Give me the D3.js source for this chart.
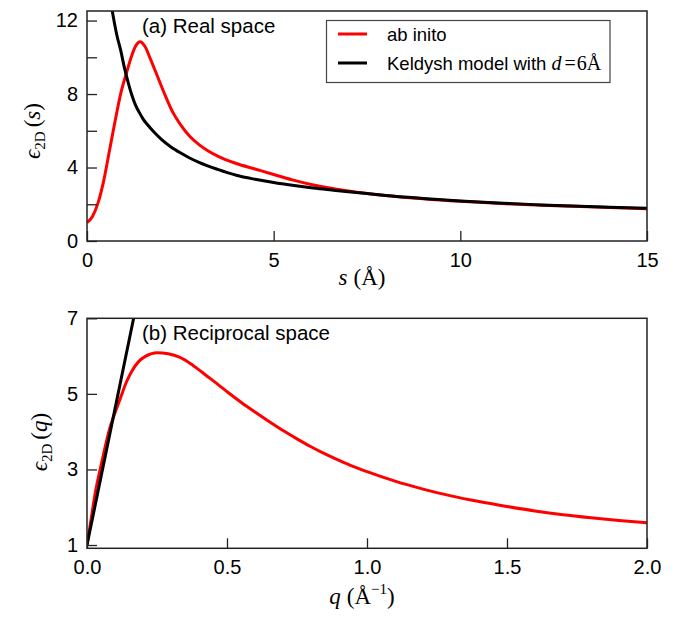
<!DOCTYPE html>
<meta charset="utf-8">
<style>
body { margin: 0; background: #fff; }
text { font-family: "Liberation Sans", Arial, sans-serif; fill: #000; }
.math { font-family: "Liberation Serif", "DejaVu Serif", serif; }
.frame { fill: none; stroke: #222; stroke-width: 1.5px; }
.tick line { stroke: #222; stroke-width: 1.3px; }
</style>
<svg width="681" height="620"></svg>
<script src="https://d3js.org/d3.v7.min.js"></script>
<script>

// panel (a): real space, s in Angstrom
var sAbInitio = [0, 0.15, 0.3, 0.45, 0.6, 0.75, 0.9, 1.05, 1.2, 1.3, 1.42, 1.55, 1.7, 1.9, 2.1, 2.3, 2.5, 2.75, 3.0, 3.5, 4.0, 4.5, 5.0, 5.5, 6.0, 6.5, 7.0, 7.5, 8.0, 9.0, 10, 11, 12, 13, 14, 15];
var epsSAbInitio = [1.0, 1.35, 2.1, 3.3, 4.9, 6.5, 8.0, 9.1, 10.1, 10.6, 10.85, 10.6, 9.9, 8.9, 7.9, 7.0, 6.35, 5.7, 5.25, 4.62, 4.22, 3.92, 3.62, 3.33, 3.08, 2.88, 2.72, 2.59, 2.48, 2.3, 2.16, 2.05, 1.96, 1.89, 1.82, 1.76];

var sKeldysh = [0.67, 0.75, 0.8, 0.9, 1.0, 1.1, 1.2, 1.3, 1.4, 1.5, 1.6, 1.8, 2.0, 2.25, 2.5, 2.75, 3.0, 3.5, 4.0, 4.5, 5.0, 5.5, 6.0, 6.5, 7.0, 7.5, 8.0, 9.0, 10, 11, 12, 13, 14, 15];
var epsSKeldysh = [12.6, 11.7, 11.2, 10.4, 9.45, 8.65, 7.95, 7.4, 7.0, 6.65, 6.38, 5.92, 5.52, 5.12, 4.8, 4.52, 4.28, 3.9, 3.58, 3.36, 3.18, 3.03, 2.9, 2.79, 2.68, 2.58, 2.48, 2.32, 2.18, 2.07, 1.98, 1.9, 1.84, 1.78];

// panel (b): reciprocal space, q in 1/Angstrom
var qAbInitio = [0, 0.015, 0.03, 0.05, 0.065, 0.08, 0.1, 0.12, 0.14, 0.16, 0.185, 0.21, 0.25, 0.29, 0.33, 0.37, 0.41, 0.45, 0.5, 0.55, 0.6, 0.65, 0.7, 0.75, 0.8, 0.85, 0.9, 0.95, 1.0, 1.1, 1.2, 1.3, 1.4, 1.5, 1.6, 1.7, 1.8, 1.9, 2.0];
var epsQAbInitio = [1.0, 1.7, 2.4, 3.1, 3.6, 4.05, 4.5, 4.9, 5.3, 5.6, 5.86, 6.0, 6.09, 6.06, 5.97, 5.8, 5.58, 5.35, 5.06, 4.78, 4.52, 4.27, 4.03, 3.81, 3.6, 3.41, 3.24, 3.08, 2.94, 2.69, 2.48, 2.3, 2.15, 2.02, 1.9, 1.8, 1.72, 1.65, 1.59];

var qKeldysh = [0, 0.172];
var epsQKeldysh = [1.0, 7.2];

var sTicks = [0, 5, 10, 15];
var epsSTicks = [0, 4, 8, 12];
var epsSMinor = [2, 6, 10];
var qTicks = [0, 0.5, 1.0, 1.5, 2.0];
var epsQTicks = [1, 3, 5, 7];

var svg = d3.select("svg");

function zip(xs, ys) { return xs.map(function(x, i) { return [x, ys[i]]; }); }

function panel(cfg) {
  var x = d3.scaleLinear().domain(cfg.xDomain).range([87, 647]);
  var y = d3.scaleLinear().domain(cfg.yDomain).range([cfg.bottom, cfg.top]);
  var g = svg.append("g");

  g.append("clipPath").attr("id", cfg.id)
    .append("rect").attr("x", 87).attr("y", cfg.top).attr("width", 560).attr("height", cfg.bottom - cfg.top);

  var line = d3.line()
      .x(function(d) { return x(d[0]); })
      .y(function(d) { return y(d[1]); })
      .curve(d3.curveMonotoneX);

  var plot = g.append("g").attr("clip-path", "url(#" + cfg.id + ")");
  plot.append("path").datum(cfg.red)
      .attr("fill", "none").attr("stroke", "#ff0000").attr("stroke-width", 3)
      .attr("d", line);
  plot.append("path").datum(cfg.black)
      .attr("fill", "none").attr("stroke", "#000").attr("stroke-width", 3)
      .attr("d", cfg.straight ? line.curve(d3.curveLinear) : line);

  // inward ticks
  g.append("g").attr("transform", "translate(0," + cfg.bottom + ")")
      .call(d3.axisBottom(x).tickValues(cfg.xTicks).tickSize(-10).tickPadding(12).tickFormat(cfg.xFormat));
  g.append("g").attr("transform", "translate(87,0)")
      .call(d3.axisLeft(y).tickValues(cfg.yTicks).tickSize(-10).tickPadding(9).tickFormat(d3.format("d")));
  if (cfg.yMinor) {
    g.append("g").attr("transform", "translate(87,0)")
      .call(d3.axisLeft(y).tickValues(cfg.yMinor).tickSize(-10).tickFormat(""));
  }
  g.selectAll(".domain").remove();
  g.selectAll(".tick text").attr("font-size", 20).attr("font-family", "Liberation Sans, Arial, sans-serif");

  g.append("rect").attr("class", "frame")
    .attr("x", 87).attr("y", cfg.top).attr("width", 560).attr("height", cfg.bottom - cfg.top);

  g.append("text").attr("x", 142).attr("y", cfg.top + 21.5).attr("font-size", 20.5).text(cfg.title);
  return { x: x, y: y, g: g };
}

panel({
  id: "clipA", top: 11, bottom: 241,
  xDomain: [0, 15], yDomain: [0, 12.52],
  xTicks: sTicks, yTicks: epsSTicks, yMinor: epsSMinor,
  xFormat: d3.format("d"),
  red: zip(sAbInitio, epsSAbInitio), black: zip(sKeldysh, epsSKeldysh),
  title: "(a) Real space"
});

panel({
  id: "clipB", top: 318.3, bottom: 548.3,
  xDomain: [0, 2], yDomain: [0.913, 7],
  xTicks: qTicks, yTicks: epsQTicks,
  xFormat: d3.format(".1f"), straight: true,
  red: zip(qAbInitio, epsQAbInitio), black: zip(qKeldysh, epsQKeldysh),
  title: "(b) Reciprocal space"
});

// legend
var leg = svg.append("g");
leg.append("rect").attr("x", 326.5).attr("y", 20.5).attr("width", 283.5).attr("height", 62)
  .attr("fill", "#fff").attr("stroke", "#444").attr("stroke-width", 1.2);
leg.append("line").attr("x1", 338).attr("x2", 367).attr("y1", 34).attr("y2", 34)
  .attr("stroke", "#ff0000").attr("stroke-width", 3);
leg.append("line").attr("x1", 338).attr("x2", 367).attr("y1", 63).attr("y2", 63)
  .attr("stroke", "#000").attr("stroke-width", 3);
leg.append("text").attr("x", 387).attr("y", 41).attr("font-size", 18.5).text("ab inito");
var kt = leg.append("text").attr("x", 387).attr("y", 70).attr("font-size", 18.5);
kt.append("tspan").text("Keldysh model with ");
kt.append("tspan").attr("class", "math").attr("font-style", "italic").attr("font-size", 20).text("d");
kt.append("tspan").attr("class", "math").attr("font-size", 20).attr("dx", 3).text("=");
kt.append("tspan").attr("class", "math").attr("font-size", 20).attr("dx", 1).text("6Å");

// axis titles
function xTitle(x, y, v, sup) {
  var t = svg.append("text").attr("class", "math").attr("x", x).attr("y", y)
    .attr("text-anchor", "middle").attr("font-size", 23);
  t.append("tspan").attr("font-style", "italic").text(v);
  t.append("tspan").attr("dx", 6).text("(Å");
  if (sup) t.append("tspan").attr("font-size", 15).attr("dy", -10).text(sup);
  t.append("tspan").attr("dy", sup ? 10 : 0).text(")");
}
xTitle(362, 285, "s", null);
xTitle(362, 604, "q", "−1");

function yTitle(x, y, v) {
  var t = svg.append("text").attr("class", "math")
    .attr("transform", "translate(" + x + "," + y + ") rotate(-90)")
    .attr("text-anchor", "middle").attr("font-size", 23);
  t.append("tspan").attr("font-style", "italic").text("ϵ");
  t.append("tspan").attr("font-size", 15).attr("dy", 5).text("2D");
  t.append("tspan").attr("dy", -5).attr("dx", 4).text("(");
  t.append("tspan").attr("font-style", "italic").text(v);
  t.append("tspan").text(")");
}
yTitle(40, 131, "s");
yTitle(47, 442, "q");

</script>
